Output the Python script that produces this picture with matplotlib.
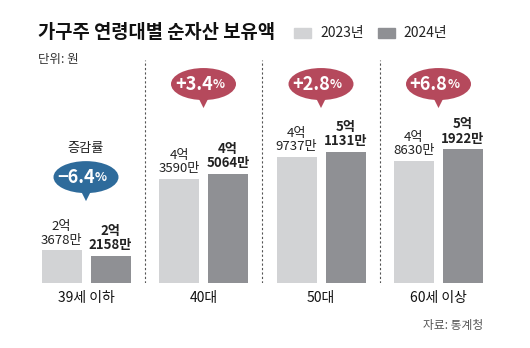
import numpy as np
import matplotlib.pyplot as plt
from matplotlib.patches import Ellipse, Polygon, Rectangle

plt.rcParams['font.family'] = ['Noto Sans CJK KR', 'DejaVu Sans']

# 단위: 만원
groups = ['39세 이하', '40대', '50대', '60세 이상']
v2023 = [23678, 43590, 49737, 48630]
v2024 = [22158, 45064, 51131, 51922]
years = ['2023년', '2024년']

c_light = '#d2d3d5'
c_dark = '#8f9094'
c_red = '#b5495c'
c_blue = '#2e6b9b'

fig = plt.figure(figsize=(5.3, 3.48), dpi=100)
W, H = 530, 348
ax_l, ax_b, ax_w, ax_h = 27.25, 65, 470, 223   # pixels
ax = fig.add_axes([ax_l / W, ax_b / H, ax_w / W, ax_h / H])

y0 = 1.4525
px_x = 4 / ax_w          # data per pixel (x)
px_y = 1 / 35.8          # data per pixel (y)
y1 = y0 + ax_h * px_y

x = np.arange(len(groups))
off = 24.5 * px_x
bw = 40 * px_x
a = np.array(v2023) / 10000
b = np.array(v2024) / 10000
ax.bar(x - off, a, bw, color=c_light)
ax.bar(x + off, b, bw, color=c_dark)
ax.set_xlim(-0.5, 3.5)
ax.set_ylim(y0, y1)

def lab(v):
    return f"{v // 10000}억\n{v % 10000}만"

for i in range(len(groups)):
    ax.annotate(lab(v2023[i]), (x[i] - off, a[i]), xytext=(0, 2.5),
                textcoords='offset points', ha='center', va='bottom',
                fontsize=9.5, linespacing=1.05, color='#222')
    ax.annotate(lab(v2024[i]), (x[i] + off, b[i]), xytext=(0, 2.5),
                textcoords='offset points', ha='center', va='bottom',
                fontsize=9.5, linespacing=1.05, fontweight='bold', color='#222')

for d in [0.5, 1.5, 2.5]:
    ax.axvline(d, color='#555', lw=0.8, ls=(0, (2, 2)))

# speech bubbles with change rate
for i in range(len(groups)):
    ch = (b[i] / a[i] - 1) * 100
    if ch < 0:
        col, yc = c_blue, 4.41
        s = f"−{abs(ch):.1f}"
    else:
        col, yc = c_red, 7.01
        s = f"+{ch:.1f}"
    ew, eh = 65 * px_x, 32 * px_y
    ax.add_patch(Ellipse((x[i], yc), ew, eh, color=col, lw=0, zorder=3))
    bot = yc - eh / 2 + 2 * px_y
    ax.add_patch(Polygon([(x[i] - 5 * px_x, bot), (x[i] + 5 * px_x, bot),
                          (x[i], bot - 10 * px_y)], closed=True, color=col,
                         lw=0, zorder=3))
    ax.annotate(s, (x[i], yc), xytext=(6.5, 0), textcoords='offset points',
                ha='right', va='center', fontsize=13, fontweight='bold',
                color='white', zorder=4)
    ax.annotate('%', (x[i], yc), xytext=(6.5, -0.5), textcoords='offset points',
                ha='left', va='center', fontsize=9, fontweight='bold',
                color='white', zorder=4)

ax.text(x[0], 5.22, '증감률', ha='center', va='center', fontsize=9.5, color='#222')

ax.set_xticks(x)
ax.set_xticklabels(groups, fontsize=10, color='#111')
ax.tick_params(axis='x', length=0, pad=6)
ax.set_yticks([])
for sp in ax.spines.values():
    sp.set_visible(False)

# title, legend, notes
fig.text(38 / W, 1 - 33 / H, '가구주 연령대별 순자산 보유액', fontsize=13.5,
         fontweight='bold', va='center', ha='left', color='#111')
for lx, tx, col, yr in [(294, 320, c_light, years[0]), (378, 403, c_dark, years[1])]:
    fig.patches.append(Rectangle((lx / W, 1 - 38 / H), 17 / W, 10 / H,
                                 transform=fig.transFigure, color=col))
    fig.text(tx / W, 1 - 33 / H, yr, fontsize=10, va='center', ha='left', color='#222')
fig.text(38 / W, 1 - 60 / H, '단위: 원', fontsize=9, va='center', ha='left', color='#333')
fig.text(483 / W, 1 - 325 / H, '자료: 통계청', fontsize=8.5, va='center', ha='right', color='#555')

fig.savefig('out.png', dpi=100)
